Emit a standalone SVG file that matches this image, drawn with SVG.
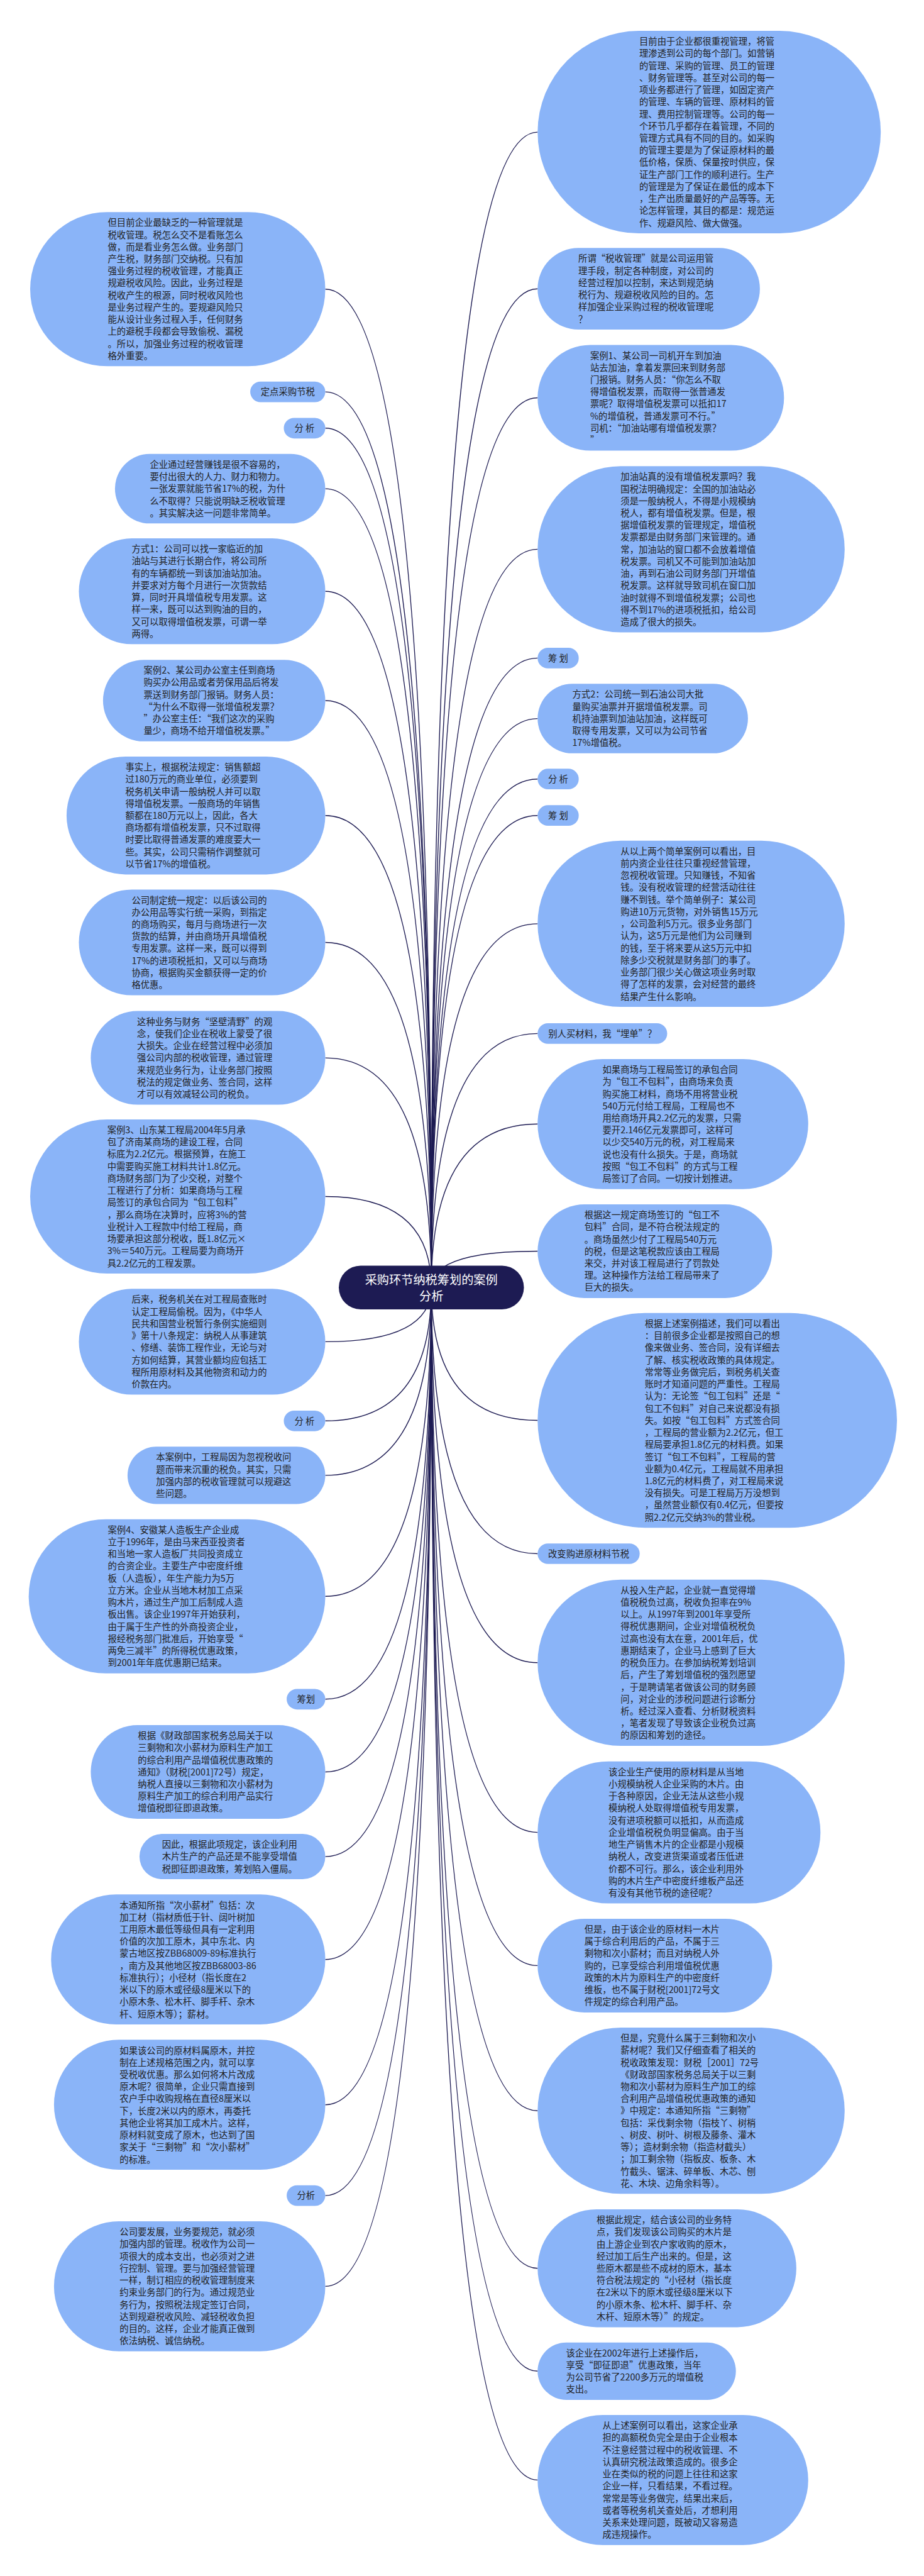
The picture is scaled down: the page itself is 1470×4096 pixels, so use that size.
<svg xmlns="http://www.w3.org/2000/svg" width="1470" height="4096" viewBox="0 0 1470 4096">
<style>
.nd{fill:#8ab4f8}
.t{font-family:"Noto Sans CJK SC","Noto Sans",sans-serif;font-size:14.35px;fill:#222}
.m{text-anchor:middle}
.c{fill:none;stroke:#1d1b53;stroke-width:1.4}
.rt{fill:#1d1b53}
.rtt{font-family:"Noto Sans CJK SC","Noto Sans",sans-serif;font-size:19.2px;fill:#fff;text-anchor:middle}
</style>
<rect width="1470" height="4096" fill="#fff"/>
<g id="connectors">
<path class="c" d="M686.2 2047.2 Q686.2 210.1 855.3 210.1"/>
<path class="c" d="M686.2 2047.2 Q686.2 459.2 855.3 459.2"/>
<path class="c" d="M686.2 2047.2 Q686.2 632.5 855.3 632.5"/>
<path class="c" d="M686.2 2047.2 Q686.2 873.4 855.3 873.4"/>
<path class="c" d="M686.2 2047.2 Q686.2 1046.4 855.3 1046.4"/>
<path class="c" d="M686.2 2047.2 Q686.2 1142.6 855.3 1142.6"/>
<path class="c" d="M686.2 2047.2 Q686.2 1238.7 855.3 1238.7"/>
<path class="c" d="M686.2 2047.2 Q686.2 1296.7 855.3 1296.7"/>
<path class="c" d="M686.2 2047.2 Q686.2 1468.9 855.3 1468.9"/>
<path class="c" d="M686.2 2047.2 Q686.2 1643.4 855.3 1643.4"/>
<path class="c" d="M686.2 2047.2 Q686.2 1787.3 855.3 1787.3"/>
<path class="c" d="M686.2 2047.2 Q686.2 1989.5 855.3 1989.5"/>
<path class="c" d="M686.2 2047.2 Q686.2 2258.5 855.3 2258.5"/>
<path class="c" d="M686.2 2047.2 Q686.2 2470.5 855.3 2470.5"/>
<path class="c" d="M686.2 2047.2 Q686.2 2643.8 855.3 2643.8"/>
<path class="c" d="M686.2 2047.2 Q686.2 2913.6 855.3 2913.6"/>
<path class="c" d="M686.2 2047.2 Q686.2 3125.4 855.3 3125.4"/>
<path class="c" d="M686.2 2047.2 Q686.2 3356.2 855.3 3356.2"/>
<path class="c" d="M686.2 2047.2 Q686.2 3606.7 855.3 3606.7"/>
<path class="c" d="M686.2 2047.2 Q686.2 3770.3 855.3 3770.3"/>
<path class="c" d="M686.2 2047.2 Q686.2 3943.4 855.3 3943.4"/>
<path class="c" d="M686.2 2047.2 Q686.2 459.8 517.5 459.8"/>
<path class="c" d="M686.2 2047.2 Q686.2 623.1 517.5 623.1"/>
<path class="c" d="M686.2 2047.2 Q686.2 680.8 517.5 680.8"/>
<path class="c" d="M686.2 2047.2 Q686.2 777.1 517.5 777.1"/>
<path class="c" d="M686.2 2047.2 Q686.2 940.2 517.5 940.2"/>
<path class="c" d="M686.2 2047.2 Q686.2 1114.0 517.5 1114.0"/>
<path class="c" d="M686.2 2047.2 Q686.2 1296.7 517.5 1296.7"/>
<path class="c" d="M686.2 2047.2 Q686.2 1498.5 517.5 1498.5"/>
<path class="c" d="M686.2 2047.2 Q686.2 1682.1 517.5 1682.1"/>
<path class="c" d="M686.2 2047.2 Q686.2 1902.5 517.5 1902.5"/>
<path class="c" d="M686.2 2047.2 Q686.2 2133.4 517.5 2133.4"/>
<path class="c" d="M686.2 2047.2 Q686.2 2259.3 517.5 2259.3"/>
<path class="c" d="M686.2 2047.2 Q686.2 2345.9 517.5 2345.9"/>
<path class="c" d="M686.2 2047.2 Q686.2 2538.2 517.5 2538.2"/>
<path class="c" d="M686.2 2047.2 Q686.2 2701.8 517.5 2701.8"/>
<path class="c" d="M686.2 2047.2 Q686.2 2817.5 517.5 2817.5"/>
<path class="c" d="M686.2 2047.2 Q686.2 2952.1 517.5 2952.1"/>
<path class="c" d="M686.2 2047.2 Q686.2 3115.7 517.5 3115.7"/>
<path class="c" d="M686.2 2047.2 Q686.2 3346.7 517.5 3346.7"/>
<path class="c" d="M686.2 2047.2 Q686.2 3491.1 517.5 3491.1"/>
<path class="c" d="M686.2 2047.2 Q686.2 3635.4 517.5 3635.4"/>
</g>
<g id="root">
<rect class="rt" x="539.0" y="2012.4" width="294.5" height="69.5" rx="34.75"/>
<text class="rtt"><tspan x="686.2" y="2041.5">采购环节纳税筹划的案例</tspan><tspan x="686.2" y="2067.8">分析</tspan></text>
</g>
<g id="r1">
<rect class="nd" x="855.3" y="49.1" width="545.9" height="322.0" rx="161"/>
<text class="t"><tspan x="1017" y="71.2">目前由于企业都很重视管理，将管</tspan><tspan x="1017" dy="19.23">理渗透到公司的每个部门。如营销</tspan><tspan x="1017" dy="19.23">的管理、采购的管理、员工的管理</tspan><tspan x="1017" dy="19.23">、财务管理等。甚至对公司的每一</tspan><tspan x="1017" dy="19.23">项业务都进行了管理，如固定资产</tspan><tspan x="1017" dy="19.23">的管理、车辆的管理、原材料的管</tspan><tspan x="1017" dy="19.23">理、费用控制管理等。公司的每一</tspan><tspan x="1017" dy="19.23">个环节几乎都存在着管理，不同的</tspan><tspan x="1017" dy="19.23">管理方式具有不同的目的。如采购</tspan><tspan x="1017" dy="19.23">的管理主要是为了保证原材料的最</tspan><tspan x="1017" dy="19.23">低价格，保质、保量按时供应，保</tspan><tspan x="1017" dy="19.23">证生产部门工作的顺利进行。生产</tspan><tspan x="1017" dy="19.23">的管理是为了保证在最低的成本下</tspan><tspan x="1017" dy="19.23">，生产出质量最好的产品等等。无</tspan><tspan x="1017" dy="19.23">论怎样管理，其目的都是：规范运</tspan><tspan x="1017" dy="19.23">作、规避风险、做大做强。</tspan></text>
</g>
<g id="r2">
<rect class="nd" x="855.3" y="394.35" width="353.6" height="129.7" rx="64.85"/>
<text class="t"><tspan x="920.1" y="416.4">所谓“税收管理”就是公司运用管</tspan><tspan x="920.1" dy="19.23">理手段，制定各种制度，对公司的</tspan><tspan x="920.1" dy="19.23">经营过程加以控制，来达到规范纳</tspan><tspan x="920.1" dy="19.23">税行为、规避税收风险的目的。怎</tspan><tspan x="920.1" dy="19.23">样加强企业采购过程的税收管理呢</tspan><tspan x="920.1" dy="19.23">？</tspan></text>
</g>
<g id="r3">
<rect class="nd" x="855.3" y="548.4" width="392.0" height="168.2" rx="84.1"/>
<text class="t"><tspan x="938.9" y="570.5">案例1、某公司一司机开车到加油</tspan><tspan x="938.9" dy="19.23">站去加油，拿着发票回来到财务部</tspan><tspan x="938.9" dy="19.23">门报销。财务人员：“你怎么不取</tspan><tspan x="938.9" dy="19.23">得增值税发票，而取得一张普通发</tspan><tspan x="938.9" dy="19.23">票呢？取得增值税发票可以抵扣17</tspan><tspan x="938.9" dy="19.23">%的增值税，普通发票可不行。”</tspan><tspan x="938.9" dy="19.23">司机：“加油站哪有增值税发票？</tspan><tspan x="938.9" dy="19.23">”</tspan></text>
</g>
<g id="r4">
<rect class="nd" x="855.3" y="741.25" width="488.5" height="264.3" rx="132.15"/>
<text class="t"><tspan x="987.3" y="763.3">加油站真的没有增值税发票吗？我</tspan><tspan x="987.3" dy="19.23">国税法明确规定：全国的加油站必</tspan><tspan x="987.3" dy="19.23">须是一般纳税人，不得是小规模纳</tspan><tspan x="987.3" dy="19.23">税人，都有增值税发票。但是，根</tspan><tspan x="987.3" dy="19.23">据增值税发票的管理规定，增值税</tspan><tspan x="987.3" dy="19.23">发票都是由财务部门来管理的。通</tspan><tspan x="987.3" dy="19.23">常，加油站的窗口都不会放着增值</tspan><tspan x="987.3" dy="19.23">税发票。司机又不可能到加油站加</tspan><tspan x="987.3" dy="19.23">油，再到石油公司财务部门开增值</tspan><tspan x="987.3" dy="19.23">税发票。这样就导致司机在窗口加</tspan><tspan x="987.3" dy="19.23">油时就得不到增值税发票；公司也</tspan><tspan x="987.3" dy="19.23">得不到17%的进项税抵扣，给公司</tspan><tspan x="987.3" dy="19.23">造成了很大的损失。</tspan></text>
</g>
<g id="r5">
<rect class="nd" x="855.3" y="1030.05" width="65.4" height="32.7" rx="16.35"/>
<text class="t m" x="888.0" y="1051.7">筹 划</text>
</g>
<g id="r6">
<rect class="nd" x="855.3" y="1087.35" width="334.6" height="110.5" rx="55.25"/>
<text class="t"><tspan x="910.5" y="1109.4">方式2：公司统一到石油公司大批</tspan><tspan x="910.5" dy="19.23">量购买油票并开据增值税发票。司</tspan><tspan x="910.5" dy="19.23">机持油票到加油站加油，这样既可</tspan><tspan x="910.5" dy="19.23">取得专用发票，又可以为公司节省</tspan><tspan x="910.5" dy="19.23">17%增值税。</tspan></text>
</g>
<g id="r7">
<rect class="nd" x="855.3" y="1222.35" width="65.4" height="32.7" rx="16.35"/>
<text class="t m" x="888.0" y="1244.0">分 析</text>
</g>
<g id="r8">
<rect class="nd" x="855.3" y="1280.35" width="65.4" height="32.7" rx="16.35"/>
<text class="t m" x="888.0" y="1302.0">筹 划</text>
</g>
<g id="r9">
<rect class="nd" x="855.3" y="1336.75" width="488.5" height="264.3" rx="132.15"/>
<text class="t"><tspan x="987.3" y="1358.8">从以上两个简单案例可以看出，目</tspan><tspan x="987.3" dy="19.23">前内资企业往往只重视经营管理，</tspan><tspan x="987.3" dy="19.23">忽视税收管理。只知赚钱，不知省</tspan><tspan x="987.3" dy="19.23">钱。没有税收管理的经营活动往往</tspan><tspan x="987.3" dy="19.23">赚不到钱。举个简单例子：某公司</tspan><tspan x="987.3" dy="19.23">购进10万元货物，对外销售15万元</tspan><tspan x="987.3" dy="19.23">，公司盈利5万元。很多业务部门</tspan><tspan x="987.3" dy="19.23">认为，这5万元是他们为公司赚到</tspan><tspan x="987.3" dy="19.23">的钱，至于将来要从这5万元中扣</tspan><tspan x="987.3" dy="19.23">除多少交税就是财务部门的事了。</tspan><tspan x="987.3" dy="19.23">业务部门很少关心做这项业务时取</tspan><tspan x="987.3" dy="19.23">得了怎样的发票，会对经营的最终</tspan><tspan x="987.3" dy="19.23">结果产生什么影响。</tspan></text>
</g>
<g id="r10">
<rect class="nd" x="855.3" y="1627.05" width="206.1" height="32.7" rx="16.35"/>
<text class="t m" x="958.35" y="1648.7">别人买材料，我“埋单”？</text>
</g>
<g id="r11">
<rect class="nd" x="855.3" y="1683.95" width="430.5" height="206.7" rx="103.35"/>
<text class="t"><tspan x="958.5" y="1706.1">如果商场与工程局签订的承包合同</tspan><tspan x="958.5" dy="19.23">为“包工不包料”，由商场来负责</tspan><tspan x="958.5" dy="19.23">购买施工材料，商场不用将营业税</tspan><tspan x="958.5" dy="19.23">540万元付给工程局，工程局也不</tspan><tspan x="958.5" dy="19.23">用给商场开具2.2亿元的发票，只需</tspan><tspan x="958.5" dy="19.23">要开2.146亿元发票即可，这样可</tspan><tspan x="958.5" dy="19.23">以少交540万元的税，对工程局来</tspan><tspan x="958.5" dy="19.23">说也没有什么损失。于是，商场就</tspan><tspan x="958.5" dy="19.23">按照“包工不包料”的方式与工程</tspan><tspan x="958.5" dy="19.23">局签订了合同。一切按计划推进。</tspan></text>
</g>
<g id="r12">
<rect class="nd" x="855.3" y="1915.0" width="373.1" height="149.0" rx="74.5"/>
<text class="t"><tspan x="929.7" y="1937.1">根据这一规定商场签订的“包工不</tspan><tspan x="929.7" dy="19.23">包料”合同，是不符合税法规定的</tspan><tspan x="929.7" dy="19.23">。商场虽然少付了工程局540万元</tspan><tspan x="929.7" dy="19.23">的税，但是这笔税款应该由工程局</tspan><tspan x="929.7" dy="19.23">来交，并对该工程局进行了罚款处</tspan><tspan x="929.7" dy="19.23">理。这种操作方法给工程局带来了</tspan><tspan x="929.7" dy="19.23">巨大的损失。</tspan></text>
</g>
<g id="r13">
<rect class="nd" x="855.3" y="2087.85" width="571.7" height="341.3" rx="170.65"/>
<text class="t"><tspan x="1025.7" y="2110.0">根据上述案例描述，我们可以看出</tspan><tspan x="1025.7" dy="19.23">：目前很多企业都是按照自己的想</tspan><tspan x="1025.7" dy="19.23">像来做业务、签合同，没有详细去</tspan><tspan x="1025.7" dy="19.23">了解、核实税收政策的具体规定。</tspan><tspan x="1025.7" dy="19.23">常常等业务做完后，到税务机关查</tspan><tspan x="1025.7" dy="19.23">账时才知道问题的严重性。工程局</tspan><tspan x="1025.7" dy="19.23">认为：无论签“包工包料”还是“</tspan><tspan x="1025.7" dy="19.23">包工不包料”对自己来说都没有损</tspan><tspan x="1025.7" dy="19.23">失。如按“包工包料”方式签合同</tspan><tspan x="1025.7" dy="19.23">，工程局的营业额为2.2亿元，但工</tspan><tspan x="1025.7" dy="19.23">程局要承担1.8亿元的材料费。如果</tspan><tspan x="1025.7" dy="19.23">签订“包工不包料”，工程局的营</tspan><tspan x="1025.7" dy="19.23">业额为0.4亿元，工程局就不用承担</tspan><tspan x="1025.7" dy="19.23">1.8亿元的材料费了，对工程局来说</tspan><tspan x="1025.7" dy="19.23">没有损失。可是工程局万万没想到</tspan><tspan x="1025.7" dy="19.23">，虽然营业额仅有0.4亿元，但要按</tspan><tspan x="1025.7" dy="19.23">照2.2亿元交纳3%的营业税。</tspan></text>
</g>
<g id="r14">
<rect class="nd" x="855.3" y="2454.15" width="162.4" height="32.7" rx="16.35"/>
<text class="t m" x="936.5" y="2475.8">改变购进原材料节税</text>
</g>
<g id="r15">
<rect class="nd" x="855.3" y="2511.65" width="488.5" height="264.3" rx="132.15"/>
<text class="t"><tspan x="987.3" y="2533.7">从投入生产起，企业就一直觉得增</tspan><tspan x="987.3" dy="19.23">值税税负过高，税收负担率在9%</tspan><tspan x="987.3" dy="19.23">以上。从1997年到2001年享受所</tspan><tspan x="987.3" dy="19.23">得税优惠期间，企业对增值税税负</tspan><tspan x="987.3" dy="19.23">过高也没有太在意，2001年后，优</tspan><tspan x="987.3" dy="19.23">惠期结束了，企业马上感到了巨大</tspan><tspan x="987.3" dy="19.23">的税负压力。在参加纳税筹划培训</tspan><tspan x="987.3" dy="19.23">后，产生了筹划增值税的强烈愿望</tspan><tspan x="987.3" dy="19.23">，于是聘请笔者做该公司的财务顾</tspan><tspan x="987.3" dy="19.23">问，对企业的涉税问题进行诊断分</tspan><tspan x="987.3" dy="19.23">析。经过深入查看、分析财税资料</tspan><tspan x="987.3" dy="19.23">，笔者发现了导致该企业税负过高</tspan><tspan x="987.3" dy="19.23">的原因和筹划的途径。</tspan></text>
</g>
<g id="r16">
<rect class="nd" x="855.3" y="2800.65" width="450.0" height="225.9" rx="112.95"/>
<text class="t"><tspan x="968.1" y="2822.7">该企业生产使用的原材料是从当地</tspan><tspan x="968.1" dy="19.23">小规模纳税人企业采购的木片。由</tspan><tspan x="968.1" dy="19.23">于各种原因，企业无法从这些小规</tspan><tspan x="968.1" dy="19.23">模纳税人处取得增值税专用发票，</tspan><tspan x="968.1" dy="19.23">没有进项税额可以抵扣，从而造成</tspan><tspan x="968.1" dy="19.23">企业增值税税负明显偏高。由于当</tspan><tspan x="968.1" dy="19.23">地生产销售木片的企业都是小规模</tspan><tspan x="968.1" dy="19.23">纳税人，改变进货渠道或者压低进</tspan><tspan x="968.1" dy="19.23">价都不可行。那么，该企业利用外</tspan><tspan x="968.1" dy="19.23">购的木片生产中密度纤维板产品还</tspan><tspan x="968.1" dy="19.23">有没有其他节税的途径呢？</tspan></text>
</g>
<g id="r17">
<rect class="nd" x="855.3" y="3050.9" width="373.1" height="149.0" rx="74.5"/>
<text class="t"><tspan x="929.7" y="3073.0">但是，由于该企业的原材料一木片</tspan><tspan x="929.7" dy="19.23">属于综合利用后的产品，不属于三</tspan><tspan x="929.7" dy="19.23">剩物和次小薪材；而且对纳税人外</tspan><tspan x="929.7" dy="19.23">购的，已享受综合利用增值税优惠</tspan><tspan x="929.7" dy="19.23">政策的木片为原料生产的中密度纤</tspan><tspan x="929.7" dy="19.23">维板，也不属于财税[2001]72号文</tspan><tspan x="929.7" dy="19.23">件规定的综合利用产品。</tspan></text>
</g>
<g id="r18">
<rect class="nd" x="855.3" y="3224.05" width="488.5" height="264.3" rx="132.15"/>
<text class="t"><tspan x="987.3" y="3246.1">但是，究竟什么属于三剩物和次小</tspan><tspan x="987.3" dy="19.23">薪材呢？我们又仔细查看了相关的</tspan><tspan x="987.3" dy="19.23">税收政策发现：财税［2001］72号</tspan><tspan x="987.3" dy="19.23">《财政部国家税务总局关于以三剩</tspan><tspan x="987.3" dy="19.23">物和次小薪材为原料生产加工的综</tspan><tspan x="987.3" dy="19.23">合利用产品增值税优惠政策的通知</tspan><tspan x="987.3" dy="19.23">》中规定：本通知所指“三剩物”</tspan><tspan x="987.3" dy="19.23">包括：采伐剩余物（指枝丫、树梢</tspan><tspan x="987.3" dy="19.23">、树皮、树叶、树根及藤条、灌木</tspan><tspan x="987.3" dy="19.23">等）；造材剩余物（指造材截头）</tspan><tspan x="987.3" dy="19.23">；加工剩余物（指板皮、板条、木</tspan><tspan x="987.3" dy="19.23">竹截头、锯沫、碎单板、木芯、刨</tspan><tspan x="987.3" dy="19.23">花、木块、边角余料等）。</tspan></text>
</g>
<g id="r19">
<rect class="nd" x="855.3" y="3513.0" width="411.6" height="187.4" rx="93.7"/>
<text class="t"><tspan x="948.9" y="3535.1">根据此规定，结合该公司的业务特</tspan><tspan x="948.9" dy="19.23">点，我们发现该公司购买的木片是</tspan><tspan x="948.9" dy="19.23">由上游企业到农户家收购的原木，</tspan><tspan x="948.9" dy="19.23">经过加工后生产出来的。但是，这</tspan><tspan x="948.9" dy="19.23">些原木都是些不成材的原木，基本</tspan><tspan x="948.9" dy="19.23">符合税法规定的“小径材（指长度</tspan><tspan x="948.9" dy="19.23">在2米以下的原木或径级8厘米以下</tspan><tspan x="948.9" dy="19.23">的小原木条、松木杆、脚手杆、杂</tspan><tspan x="948.9" dy="19.23">木杆、短原木等）”的规定。</tspan></text>
</g>
<g id="r20">
<rect class="nd" x="855.3" y="3724.65" width="315.4" height="91.3" rx="45.65"/>
<text class="t"><tspan x="900.5" y="3746.8">该企业在2002年进行上述操作后，</tspan><tspan x="900.5" dy="19.23">享受“即征即退”优惠政策，当年</tspan><tspan x="900.5" dy="19.23">为公司节省了2200多万元的增值税</tspan><tspan x="900.5" dy="19.23">支出。</tspan></text>
</g>
<g id="r21">
<rect class="nd" x="855.3" y="3840.05" width="430.5" height="206.7" rx="103.35"/>
<text class="t"><tspan x="958.5" y="3862.2">从上述案例可以看出，这家企业承</tspan><tspan x="958.5" dy="19.23">担的高额税负完全是由于企业根本</tspan><tspan x="958.5" dy="19.23">不注意经营过程中的税收管理、不</tspan><tspan x="958.5" dy="19.23">认真研究税法政策造成的。很多企</tspan><tspan x="958.5" dy="19.23">业在类似的税的问题上往往和这家</tspan><tspan x="958.5" dy="19.23">企业一样，只看结果，不看过程。</tspan><tspan x="958.5" dy="19.23">常常是等业务做完，结果出来后，</tspan><tspan x="958.5" dy="19.23">或者等税务机关查处后，才想利用</tspan><tspan x="958.5" dy="19.23">关系来处理问题，既被动又容易造</tspan><tspan x="958.5" dy="19.23">成违规操作。</tspan></text>
</g>
<g id="l1">
<rect class="nd" x="48.0" y="337.25" width="469.5" height="245.1" rx="122.55"/>
<text class="t"><tspan x="171.5" y="359.3">但目前企业最缺乏的一种管理就是</tspan><tspan x="171.5" dy="19.23">税收管理。税怎么交不是看账怎么</tspan><tspan x="171.5" dy="19.23">做，而是看业务怎么做。业务部门</tspan><tspan x="171.5" dy="19.23">产生税，财务部门交纳税。只有加</tspan><tspan x="171.5" dy="19.23">强业务过程的税收管理，才能真正</tspan><tspan x="171.5" dy="19.23">规避税收风险。因此，业务过程是</tspan><tspan x="171.5" dy="19.23">税收产生的根源，同时税收风险也</tspan><tspan x="171.5" dy="19.23">是业务过程产生的。要规避风险只</tspan><tspan x="171.5" dy="19.23">能从设计业务过程入手，任何财务</tspan><tspan x="171.5" dy="19.23">上的避税手段都会导致偷税、漏税</tspan><tspan x="171.5" dy="19.23">。所以，加强业务过程的税收管理</tspan><tspan x="171.5" dy="19.23">格外重要。</tspan></text>
</g>
<g id="l2">
<rect class="nd" x="398.1" y="606.75" width="119.4" height="32.7" rx="16.35"/>
<text class="t m" x="457.8" y="628.4">定点采购节税</text>
</g>
<g id="l3">
<rect class="nd" x="451.5" y="664.45" width="66.0" height="32.7" rx="16.35"/>
<text class="t m" x="484.5" y="686.1">分 析</text>
</g>
<g id="l4">
<rect class="nd" x="182.9" y="721.85" width="334.6" height="110.5" rx="55.25"/>
<text class="t"><tspan x="238.4" y="743.9">企业通过经营赚钱是很不容易的，</tspan><tspan x="238.4" dy="19.23">要付出很大的人力、财力和物力。</tspan><tspan x="238.4" dy="19.23">一张发票就能节省17%的税，为什</tspan><tspan x="238.4" dy="19.23">么不取得？只能说明缺乏税收管理</tspan><tspan x="238.4" dy="19.23">。其实解决这一问题非常简单。</tspan></text>
</g>
<g id="l5">
<rect class="nd" x="125.5" y="856.1" width="392.0" height="168.2" rx="84.1"/>
<text class="t"><tspan x="209.4" y="878.2">方式1：公司可以找一家临近的加</tspan><tspan x="209.4" dy="19.23">油站与其进行长期合作，将公司所</tspan><tspan x="209.4" dy="19.23">有的车辆都统一到该加油站加油。</tspan><tspan x="209.4" dy="19.23">并要求对方每个月进行一次货款结</tspan><tspan x="209.4" dy="19.23">算，同时开具增值税专用发票。这</tspan><tspan x="209.4" dy="19.23">样一来，既可以达到购油的目的，</tspan><tspan x="209.4" dy="19.23">又可以取得增值税发票，可谓一举</tspan><tspan x="209.4" dy="19.23">两得。</tspan></text>
</g>
<g id="l6">
<rect class="nd" x="163.9" y="1049.15" width="353.6" height="129.7" rx="64.85"/>
<text class="t"><tspan x="228.5" y="1071.2">案例2、某公司办公室主任到商场</tspan><tspan x="228.5" dy="19.23">购买办公用品或者劳保用品后将发</tspan><tspan x="228.5" dy="19.23">票送到财务部门报销。财务人员：</tspan><tspan x="228.5" dy="19.23">“为什么不取得一张增值税发票？</tspan><tspan x="228.5" dy="19.23">”办公室主任：“我们这次的采购</tspan><tspan x="228.5" dy="19.23">量少，商场不给开增值税发票。”</tspan></text>
</g>
<g id="l7">
<rect class="nd" x="105.9" y="1203.0" width="411.6" height="187.4" rx="93.7"/>
<text class="t"><tspan x="199.5" y="1225.1">事实上，根据税法规定：销售额超</tspan><tspan x="199.5" dy="19.23">过180万元的商业单位，必须要到</tspan><tspan x="199.5" dy="19.23">税务机关申请一般纳税人并可以取</tspan><tspan x="199.5" dy="19.23">得增值税发票。一般商场的年销售</tspan><tspan x="199.5" dy="19.23">额都在180万元以上，因此，各大</tspan><tspan x="199.5" dy="19.23">商场都有增值税发票，只不过取得</tspan><tspan x="199.5" dy="19.23">时要比取得普通发票的难度要大一</tspan><tspan x="199.5" dy="19.23">些。其实，公司只需稍作调整就可</tspan><tspan x="199.5" dy="19.23">以节省17%的增值税。</tspan></text>
</g>
<g id="l8">
<rect class="nd" x="125.5" y="1414.4" width="392.0" height="168.2" rx="84.1"/>
<text class="t"><tspan x="209.4" y="1436.5">公司制定统一规定：以后该公司的</tspan><tspan x="209.4" dy="19.23">办公用品等实行统一采购，到指定</tspan><tspan x="209.4" dy="19.23">的商场购买，每月与商场进行一次</tspan><tspan x="209.4" dy="19.23">货款的结算，并由商场开具增值税</tspan><tspan x="209.4" dy="19.23">专用发票。这样一来，既可以得到</tspan><tspan x="209.4" dy="19.23">17%的进项税抵扣，又可以与商场</tspan><tspan x="209.4" dy="19.23">协商，根据购买金额获得一定的价</tspan><tspan x="209.4" dy="19.23">格优惠。</tspan></text>
</g>
<g id="l9">
<rect class="nd" x="144.4" y="1607.6" width="373.1" height="149.0" rx="74.5"/>
<text class="t"><tspan x="218.1" y="1629.7">这种业务与财务“坚壁清野”的观</tspan><tspan x="218.1" dy="19.23">念，使我们企业在税收上蒙受了很</tspan><tspan x="218.1" dy="19.23">大损失。企业在经营过程中必须加</tspan><tspan x="218.1" dy="19.23">强公司内部的税收管理，通过管理</tspan><tspan x="218.1" dy="19.23">来规范业务行为，让业务部门按照</tspan><tspan x="218.1" dy="19.23">税法的规定做业务、签合同，这样</tspan><tspan x="218.1" dy="19.23">才可以有效减轻公司的税负。</tspan></text>
</g>
<g id="l10">
<rect class="nd" x="48.0" y="1779.95" width="469.5" height="245.1" rx="122.55"/>
<text class="t"><tspan x="170.7" y="1802.0">案例3、山东某工程局2004年5月承</tspan><tspan x="170.7" dy="19.23">包了济南某商场的建设工程，合同</tspan><tspan x="170.7" dy="19.23">标底为2.2亿元。根据预算，在施工</tspan><tspan x="170.7" dy="19.23">中需要购买施工材料共计1.8亿元。</tspan><tspan x="170.7" dy="19.23">商场财务部门为了少交税，对整个</tspan><tspan x="170.7" dy="19.23">工程进行了分析：如果商场与工程</tspan><tspan x="170.7" dy="19.23">局签订的承包合同为“包工包料”</tspan><tspan x="170.7" dy="19.23">，那么商场在决算时，应将3%的营</tspan><tspan x="170.7" dy="19.23">业税计入工程款中付给工程局，商</tspan><tspan x="170.7" dy="19.23">场要承担这部分税收，既1.8亿元×</tspan><tspan x="170.7" dy="19.23">3%＝540万元。工程局要为商场开</tspan><tspan x="170.7" dy="19.23">具2.2亿元的工程发票。</tspan></text>
</g>
<g id="l11">
<rect class="nd" x="125.5" y="2049.3" width="392.0" height="168.2" rx="84.1"/>
<text class="t"><tspan x="209.4" y="2071.4">后来，税务机关在对工程局查账时</tspan><tspan x="209.4" dy="19.23">认定工程局偷税。因为，《中华人</tspan><tspan x="209.4" dy="19.23">民共和国营业税暂行条例实施细则</tspan><tspan x="209.4" dy="19.23">》第十八条规定：纳税人从事建筑</tspan><tspan x="209.4" dy="19.23">、修缮、装饰工程作业，无论与对</tspan><tspan x="209.4" dy="19.23">方如何结算，其营业额均应包括工</tspan><tspan x="209.4" dy="19.23">程所用原材料及其他物资和动力的</tspan><tspan x="209.4" dy="19.23">价款在内。</tspan></text>
</g>
<g id="l12">
<rect class="nd" x="451.5" y="2242.95" width="66.0" height="32.7" rx="16.35"/>
<text class="t m" x="484.5" y="2264.6">分 析</text>
</g>
<g id="l13">
<rect class="nd" x="202.9" y="2300.25" width="314.6" height="91.3" rx="45.65"/>
<text class="t"><tspan x="248.3" y="2322.4">本案例中，工程局因为忽视税收问</tspan><tspan x="248.3" dy="19.23">题而带来沉重的税负。其实，只需</tspan><tspan x="248.3" dy="19.23">加强内部的税收管理就可以规避这</tspan><tspan x="248.3" dy="19.23">些问题。</tspan></text>
</g>
<g id="l14">
<rect class="nd" x="45.7" y="2415.65" width="471.8" height="245.1" rx="122.55"/>
<text class="t"><tspan x="171.5" y="2437.7">案例4、安徽某人造板生产企业成</tspan><tspan x="171.5" dy="19.23">立于1996年，是由马来西亚投资者</tspan><tspan x="171.5" dy="19.23">和当地一家人造板厂共同投资成立</tspan><tspan x="171.5" dy="19.23">的合资企业。主要生产中密度纤维</tspan><tspan x="171.5" dy="19.23">板（人造板），年生产能力为5万</tspan><tspan x="171.5" dy="19.23">立方米。企业从当地木材加工点采</tspan><tspan x="171.5" dy="19.23">购木片，通过生产加工后制成人造</tspan><tspan x="171.5" dy="19.23">板出售。该企业1997年开始获利，</tspan><tspan x="171.5" dy="19.23">由于属于生产性的外商投资企业，</tspan><tspan x="171.5" dy="19.23">报经税务部门批准后，开始享受“</tspan><tspan x="171.5" dy="19.23">两免三减半”的所得税优惠政策，</tspan><tspan x="171.5" dy="19.23">到2001年年底优惠期已结束。</tspan></text>
</g>
<g id="l15">
<rect class="nd" x="456.1" y="2685.45" width="61.4" height="32.7" rx="16.35"/>
<text class="t m" x="486.8" y="2707.1">筹划</text>
</g>
<g id="l16">
<rect class="nd" x="144.4" y="2743.0" width="373.1" height="149.0" rx="74.5"/>
<text class="t"><tspan x="219.3" y="2765.1">根据《财政部国家税务总局关于以</tspan><tspan x="219.3" dy="19.23">三剩物和次小薪材为原料生产加工</tspan><tspan x="219.3" dy="19.23">的综合利用产品增值税优惠政策的</tspan><tspan x="219.3" dy="19.23">通知》（财税[2001]72号）规定，</tspan><tspan x="219.3" dy="19.23">纳税人直接以三剩物和次小薪材为</tspan><tspan x="219.3" dy="19.23">原料生产加工的综合利用产品实行</tspan><tspan x="219.3" dy="19.23">增值税即征即退政策。</tspan></text>
</g>
<g id="l17">
<rect class="nd" x="221.9" y="2916.1" width="295.6" height="72.0" rx="36"/>
<text class="t"><tspan x="257.7" y="2938.2">因此，根据此项规定，该企业利用</tspan><tspan x="257.7" dy="19.23">木片生产的产品还是不能享受增值</tspan><tspan x="257.7" dy="19.23">税即征即退政策，筹划陷入僵局。</tspan></text>
</g>
<g id="l18">
<rect class="nd" x="81.3" y="3012.35" width="436.2" height="206.7" rx="103.35"/>
<text class="t"><tspan x="190.3" y="3034.5">本通知所指“次小薪材”包括：次</tspan><tspan x="190.3" dy="19.23">加工材（指材质低于针、阔叶树加</tspan><tspan x="190.3" dy="19.23">工用原木最低等级但具有一定利用</tspan><tspan x="190.3" dy="19.23">价值的次加工原木，其中东北、内</tspan><tspan x="190.3" dy="19.23">蒙古地区按ZBB68009-89标准执行</tspan><tspan x="190.3" dy="19.23">，南方及其他地区按ZBB68003-86</tspan><tspan x="190.3" dy="19.23">标准执行）；小径材（指长度在2</tspan><tspan x="190.3" dy="19.23">米以下的原木或径级8厘米以下的</tspan><tspan x="190.3" dy="19.23">小原木条、松木杆、脚手杆、杂木</tspan><tspan x="190.3" dy="19.23">杆、短原木等）；薪材。</tspan></text>
</g>
<g id="l19">
<rect class="nd" x="85.9" y="3243.35" width="431.6" height="206.7" rx="103.35"/>
<text class="t"><tspan x="190.3" y="3265.5">如果该公司的原材料属原木，并控</tspan><tspan x="190.3" dy="19.23">制在上述规格范围之内，就可以享</tspan><tspan x="190.3" dy="19.23">受税收优惠。那么如何将木片改成</tspan><tspan x="190.3" dy="19.23">原木呢？很简单，企业只需直接到</tspan><tspan x="190.3" dy="19.23">农户手中收购规格在直径8厘米以</tspan><tspan x="190.3" dy="19.23">下，长度2米以内的原木，再委托</tspan><tspan x="190.3" dy="19.23">其他企业将其加工成木片。这样，</tspan><tspan x="190.3" dy="19.23">原材料就变成了原木，也达到了国</tspan><tspan x="190.3" dy="19.23">家关于“三剩物”和“次小薪材”</tspan><tspan x="190.3" dy="19.23">的标准。</tspan></text>
</g>
<g id="l20">
<rect class="nd" x="456.1" y="3474.75" width="61.4" height="32.7" rx="16.35"/>
<text class="t m" x="486.8" y="3496.4">分析</text>
</g>
<g id="l21">
<rect class="nd" x="85.9" y="3532.05" width="431.6" height="206.7" rx="103.35"/>
<text class="t"><tspan x="190.3" y="3554.2">公司要发展，业务要规范，就必须</tspan><tspan x="190.3" dy="19.23">加强内部的管理。税收作为公司一</tspan><tspan x="190.3" dy="19.23">项很大的成本支出，也必须对之进</tspan><tspan x="190.3" dy="19.23">行控制、管理。要与加强经营管理</tspan><tspan x="190.3" dy="19.23">一样，制订相应的税收管理制度来</tspan><tspan x="190.3" dy="19.23">约束业务部门的行为。通过规范业</tspan><tspan x="190.3" dy="19.23">务行为，按照税法规定签订合同，</tspan><tspan x="190.3" dy="19.23">达到规避税收风险、减轻税收负担</tspan><tspan x="190.3" dy="19.23">的目的。这样，企业才能真正做到</tspan><tspan x="190.3" dy="19.23">依法纳税、诚信纳税。</tspan></text>
</g>
</svg>
